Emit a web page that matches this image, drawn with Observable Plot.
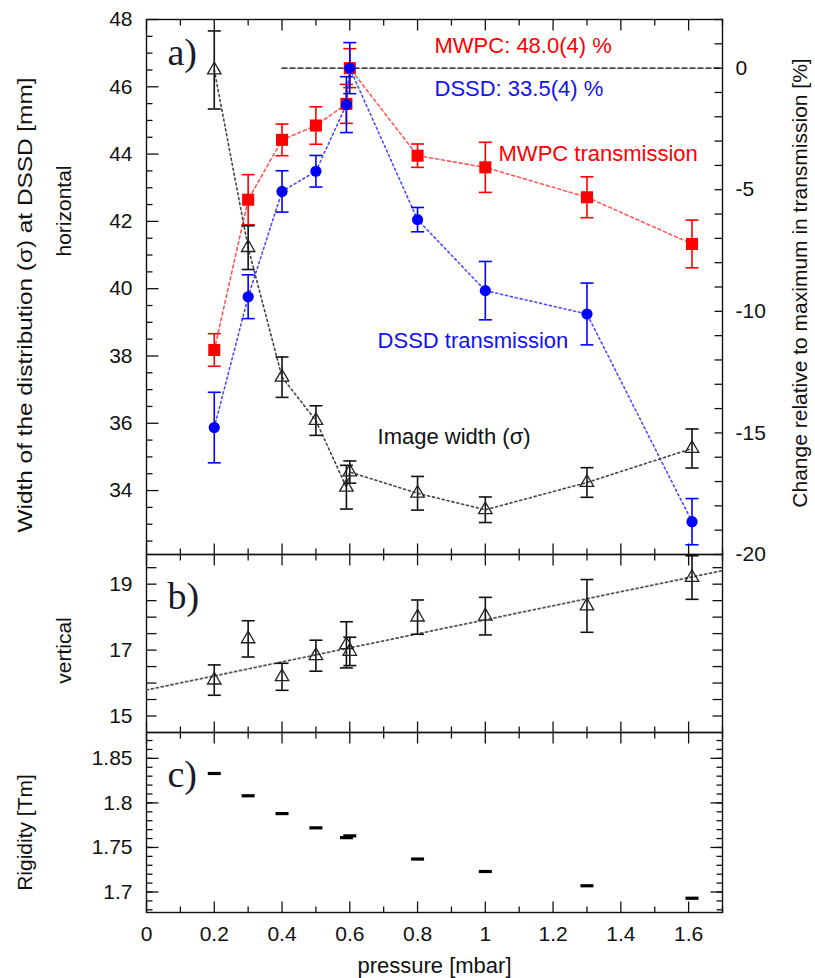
<!DOCTYPE html>
<html>
<head>
<meta charset="utf-8">
<script src="https://cdn.jsdelivr.net/npm/d3@7"></script>
<script src="https://cdn.jsdelivr.net/npm/@observablehq/plot@0.6"></script>
<style>
  body { margin: 0; background: #fff; }
  #chart { position: relative; width: 815px; height: 978px; font-family: "Liberation Sans", Arial, sans-serif; }
  #chart svg { position: absolute; left: 0; overflow: visible; }
</style>
</head>
<body>
<div id="chart"></div>
<script>
// Gas pressure in the separator [mbar]; two runs were taken near 0.6 mbar
const pressure = [0.2, 0.3, 0.4, 0.5, 0.59, 0.6, 0.8, 1.0, 1.3, 1.61];

// a) horizontal image width (sigma) at the DSSD [mm]
const widthH    = [46.5, 41.22, 37.37, 36.08, 34.1, 34.55, 33.92, 33.43, 34.24, 35.25];
const widthHErr = [1.16, 0.65, 0.6, 0.44, 0.65, 0.33, 0.5, 0.38, 0.44, 0.58];

// a) transmission change relative to the maximum [%]
const mwpc      = [-11.59, -5.41, -2.95, -2.36, -1.47, 0, -3.6, -4.08, -5.31, -7.23];
const mwpcErr   = [0.67, 1.03, 0.65, 0.77, 0.8, 0.8, 0.48, 1.03, 0.84, 0.98];
const dssd      = [-14.78, -9.4, -5.07, -4.24, -1.5, 0, -6.23, -9.15, -10.11, -18.65];
const dssdErr   = [1.45, 0.9, 0.85, 0.65, 1.15, 1.05, 0.5, 1.2, 1.27, 0.95];

// b) vertical image width (sigma) at the DSSD [mm] and its linear fit
const widthV    = [16.09, 17.34, 16.19, 16.83, 17.16, 16.96, 18.0, 18.03, 18.34, 19.2];
const widthVErr = [0.46, 0.55, 0.41, 0.47, 0.7, 0.43, 0.52, 0.57, 0.8, 0.66];
const fitX = [0, 1.7];
const fitY = [15.79, 19.41];

// c) magnetic rigidity setting [Tm]
const rigidity  = [1.833, 1.808, 1.788, 1.772, 1.761, 1.763, 1.737, 1.723, 1.707, 1.693];

// reference level of maximum transmission
const refX = [0.4, 1.7];
const refPct = [0, 0];

// tick labels
const xLabels = [0, 0.2, 0.4, 0.6, 0.8, 1, 1.2, 1.4, 1.6];
const yLabelsA = [34, 36, 38, 40, 42, 44, 46, 48];
const pctLabels = [0, -5, -10, -15, -20];
const yLabelsB = [15, 17, 19];
const yLabelsC = [1.7, 1.75, 1.8, 1.85];

// ---- layout ----
const W = 815, ML = 146, MR = 93;
const X_DOMAIN = [0, 1.7];
const Y_A = [32.1, 48];      // left axis of panel a [mm]
const PCT = [-20, 2];        // right axis of panel a [%]
const Y_B = [14.5, 19.9];
const Y_C = [1.677, 1.879];

const toMM = pct => Y_A[0] + (pct - PCT[0]) * (Y_A[1] - Y_A[0]) / (PCT[1] - PCT[0]);
const toPct = mm => PCT[0] + (mm - Y_A[0]) * (PCT[1] - PCT[0]) / (Y_A[1] - Y_A[0]);

const RED = "#ff0000", BLUE = "#0000ff", INK = "#111";
const SERIF = '"Liberation Serif", "DejaVu Serif", serif';
const Y_TITLE = "Width of the distribution (σ) at DSSD [mm]";
const baseStyle = {
  fontFamily: '"Liberation Sans", Arial, sans-serif',
  fontSize: "21px",
  background: "transparent",
  overflow: "visible",
  color: INK
};

const rows = pressure.map((p, i) => ({
  p,
  w: widthH[i], we: widthHErr[i],
  m: mwpc[i], me: mwpcErr[i],
  d: dssd[i], de: dssdErr[i],
  v: widthV[i], ve: widthVErr[i],
  r: rigidity[i]
}));

// symbols: a half line starting at the anchor (inward ticks) and a centred bar
const halfLine = (dx, dy) => ({
  draw(ctx, size) { const l = Math.sqrt(size / Math.PI); ctx.moveTo(0, 0); ctx.lineTo(dx * l, dy * l); }
});
const hBar = {
  draw(ctx, size) { const l = Math.sqrt(size / Math.PI); ctx.moveTo(-l, 0); ctx.lineTo(l, 0); }
};
const DOWN = halfLine(0, 1), UP = halfLine(0, -1), RIGHTW = halfLine(1, 0), LEFTW = halfLine(-1, 0);

const range = (a, b, n) => d3.range(0, n + 1).map(i => +(a + (b - a) * i / n).toFixed(6));
const xMinor = range(0, 1.7, 17).filter(v => Math.round(v * 10) % 2 === 1);
const xMajor = range(0, 1.6, 8);

function inwardTicks(values, anchor, symbol, r) {
  const ch = (anchor === "top" || anchor === "bottom") ? {x: d => d} : {y: d => d};
  return Plot.dot(values, {...ch, frameAnchor: anchor, symbol, r, fill: "none", stroke: INK, strokeWidth: 1.3});
}

function xTicks() {
  return [
    inwardTicks(xMajor, "top", DOWN, 11), inwardTicks(xMinor, "top", DOWN, 6),
    inwardTicks(xMajor, "bottom", UP, 11), inwardTicks(xMinor, "bottom", UP, 6)
  ];
}

// vertical error bar with caps; lo/hi return the bar ends in y-scale units
function errorBars(data, lo, hi, color, width = 1.6) {
  return [
    Plot.ruleX(data, {x: "p", y1: lo, y2: hi, stroke: color, strokeWidth: width}),
    Plot.dot(data, {x: "p", y: lo, symbol: hBar, r: 6.5, fill: "none", stroke: color, strokeWidth: width}),
    Plot.dot(data, {x: "p", y: hi, symbol: hBar, r: 6.5, fill: "none", stroke: color, strokeWidth: width})
  ];
}

const label = (t, o) => Plot.text([t], {text: d => d, ...o});
const plainNum = d => String(d);

// ---------- panel a ----------
const yMinorA = d3.range(65, 96).map(i => i / 2).filter(v => v % 2 !== 0);
const pctTicks = d3.range(-20, 3).map(toMM);
const refRows = refX.map((x, i) => ({x, y: toMM(refPct[i])}));

const plotA = Plot.plot({
  width: W, height: 554,
  marginLeft: ML, marginRight: MR, marginTop: 19, marginBottom: 0,
  style: baseStyle,
  x: {domain: X_DOMAIN, axis: null},
  y: {domain: Y_A},
  marks: [
    Plot.frame({stroke: INK, strokeWidth: 1.4}),
    ...xTicks(),
    inwardTicks(yLabelsA, "left", RIGHTW, 12), inwardTicks(yMinorA, "left", RIGHTW, 6),
    inwardTicks(pctTicks, "right", LEFTW, 8),
    Plot.axisY(yLabelsA, {anchor: "left", tickSize: 0, tickPadding: 14, label: null}),
    Plot.axisY(pctLabels.map(toMM), {anchor: "right", tickSize: 0, tickPadding: 13, label: null,
      tickFormat: d => String(Math.round(toPct(d)))}),
    Plot.line(refRows, {x: "x", y: "y", stroke: "#000", strokeWidth: 1.4, strokeDasharray: "5,3"}),
    Plot.line(rows, {x: "p", y: d => toMM(d.m), stroke: "#ff5a5a", strokeWidth: 1.6, strokeDasharray: "3,3"}),
    Plot.line(rows, {x: "p", y: d => toMM(d.d), stroke: "#4b4bff", strokeWidth: 1.6, strokeDasharray: "2,3"}),
    Plot.line(rows, {x: "p", y: "w", stroke: "#444", strokeWidth: 1.6, strokeDasharray: "2,3"}),
    ...errorBars(rows, d => toMM(d.m - d.me), d => toMM(d.m + d.me), RED),
    Plot.dot(rows, {x: "p", y: d => toMM(d.m), symbol: "square", r: 6.8, fill: RED, stroke: "none"}),
    ...errorBars(rows, d => toMM(d.d - d.de), d => toMM(d.d + d.de), BLUE),
    Plot.dot(rows, {x: "p", y: d => toMM(d.d), symbol: "circle", r: 5.6, fill: BLUE, stroke: "none"}),
    ...errorBars(rows, d => d.w - d.we, d => d.w + d.we, INK),
    Plot.dot(rows, {x: "p", y: "w", symbol: "triangle", r: 5, fill: "none", stroke: "#222", strokeWidth: 1.3}),
    label("MWPC: 48.0(4) %", {x: 0.85, y: toMM(0.93), textAnchor: "start", fill: RED, fontSize: 22}),
    label("DSSD: 33.5(4) %", {x: 0.85, y: toMM(-0.84), textAnchor: "start", fill: "#1010ff", fontSize: 22}),
    label("MWPC transmission", {x: 1.039, y: toMM(-3.51), textAnchor: "start", fill: RED, fontSize: 22}),
    label("DSSD transmission", {x: 0.682, y: toMM(-11.2), textAnchor: "start", fill: "#1010ff", fontSize: 22}),
    label("Image width (σ)", {x: 0.682, y: 35.58, textAnchor: "start", fill: INK, fontSize: 22}),
    label("a)", {frameAnchor: "top-left", dx: 21, dy: 33, textAnchor: "start", lineAnchor: "middle", fontFamily: SERIF, fontSize: 38, fill: "#1a1a2a"}),
    label(Y_TITLE, {frameAnchor: "left", dx: -121, dy: 18, rotate: -90, textAnchor: "middle", lineAnchor: "middle", fontSize: 21}),
    label("horizontal", {frameAnchor: "left", dx: -82, dy: -76, rotate: -90, textAnchor: "middle", lineAnchor: "middle", fontSize: 21}),
    label("Change relative to maximum in transmission [%]", {frameAnchor: "right", dx: 78, dy: -4, rotate: -90, textAnchor: "middle", lineAnchor: "middle", fontSize: 21})
  ]
});

// the shared y title is set in a condensed face: stretch it along its reading direction
plotA.querySelectorAll("text").forEach(t => {
  if (t.textContent === Y_TITLE) {
    t.setAttribute("transform", (t.getAttribute("transform") || "") + " scale(1.16,1)");
  }
});

// ---------- panel b ----------
const yMinorB = d3.range(30, 40).map(i => i / 2);
const fitRows = fitX.map((x, i) => ({x, y: fitY[i]}));

const plotB = Plot.plot({
  width: W, height: 178,
  marginLeft: ML, marginRight: MR, marginTop: 0, marginBottom: 0,
  style: baseStyle,
  x: {domain: X_DOMAIN, axis: null},
  y: {domain: Y_B},
  marks: [
    Plot.frame({stroke: INK, strokeWidth: 1.4}),
    ...xTicks(),
    inwardTicks(yMinorB, "left", RIGHTW, 10), inwardTicks(yMinorB, "right", LEFTW, 10),
    Plot.axisY(yLabelsB, {anchor: "left", tickSize: 0, tickPadding: 14, label: null}),
    Plot.line(fitRows, {x: "x", y: "y", stroke: "#555", strokeWidth: 1.8, strokeDasharray: "2,3"}),
    ...errorBars(rows, d => d.v - d.ve, d => d.v + d.ve, INK),
    Plot.dot(rows, {x: "p", y: "v", symbol: "triangle", r: 5, fill: "none", stroke: "#222", strokeWidth: 1.3}),
    label("b)", {frameAnchor: "top-left", dx: 21, dy: 42, textAnchor: "start", lineAnchor: "middle", fontFamily: SERIF, fontSize: 38, fill: "#1a1a2a"}),
    label("vertical", {frameAnchor: "left", dx: -82, dy: 7, rotate: -90, textAnchor: "middle", lineAnchor: "middle", fontSize: 21})
  ]
});

// ---------- panel c ----------
const yMinorC = d3.range(168, 188).map(i => i / 100);

const plotC = Plot.plot({
  width: W, height: 246,
  marginLeft: ML, marginRight: MR, marginTop: 0, marginBottom: 66,
  style: baseStyle,
  x: {domain: X_DOMAIN},
  y: {domain: Y_C},
  marks: [
    Plot.frame({stroke: INK, strokeWidth: 1.4}),
    ...xTicks(),
    inwardTicks(yMinorC, "left", RIGHTW, 6), inwardTicks(yMinorC, "right", LEFTW, 6),
    inwardTicks(yLabelsC, "left", RIGHTW, 12), inwardTicks(yLabelsC, "right", LEFTW, 12),
    Plot.axisY(yLabelsC, {anchor: "left", tickSize: 0, tickPadding: 14, label: null, tickFormat: plainNum}),
    Plot.axisX(xLabels, {anchor: "bottom", tickSize: 0, tickPadding: 14, label: null, tickFormat: plainNum}),
    Plot.dot(rows, {x: "p", y: "r", symbol: hBar, r: 6.5, fill: "none", stroke: "#000", strokeWidth: 3.2}),
    label("c)", {frameAnchor: "top-left", dx: 21, dy: 42, textAnchor: "start", lineAnchor: "middle", fontFamily: SERIF, fontSize: 38, fill: "#1a1a2a"}),
    label("Rigidity [Tm]", {frameAnchor: "left", dx: -121, dy: 10, rotate: -90, textAnchor: "middle", lineAnchor: "middle", fontSize: 21}),
    label("pressure [mbar]", {frameAnchor: "bottom", dy: 53, lineAnchor: "middle", fontSize: 22})
  ]
});

const chart = document.getElementById("chart");
[[plotA, 0], [plotB, 554], [plotC, 732]].forEach(([svg, top]) => {
  svg.style.top = top + "px";
  chart.appendChild(svg);
});
</script>
</body>
</html>
